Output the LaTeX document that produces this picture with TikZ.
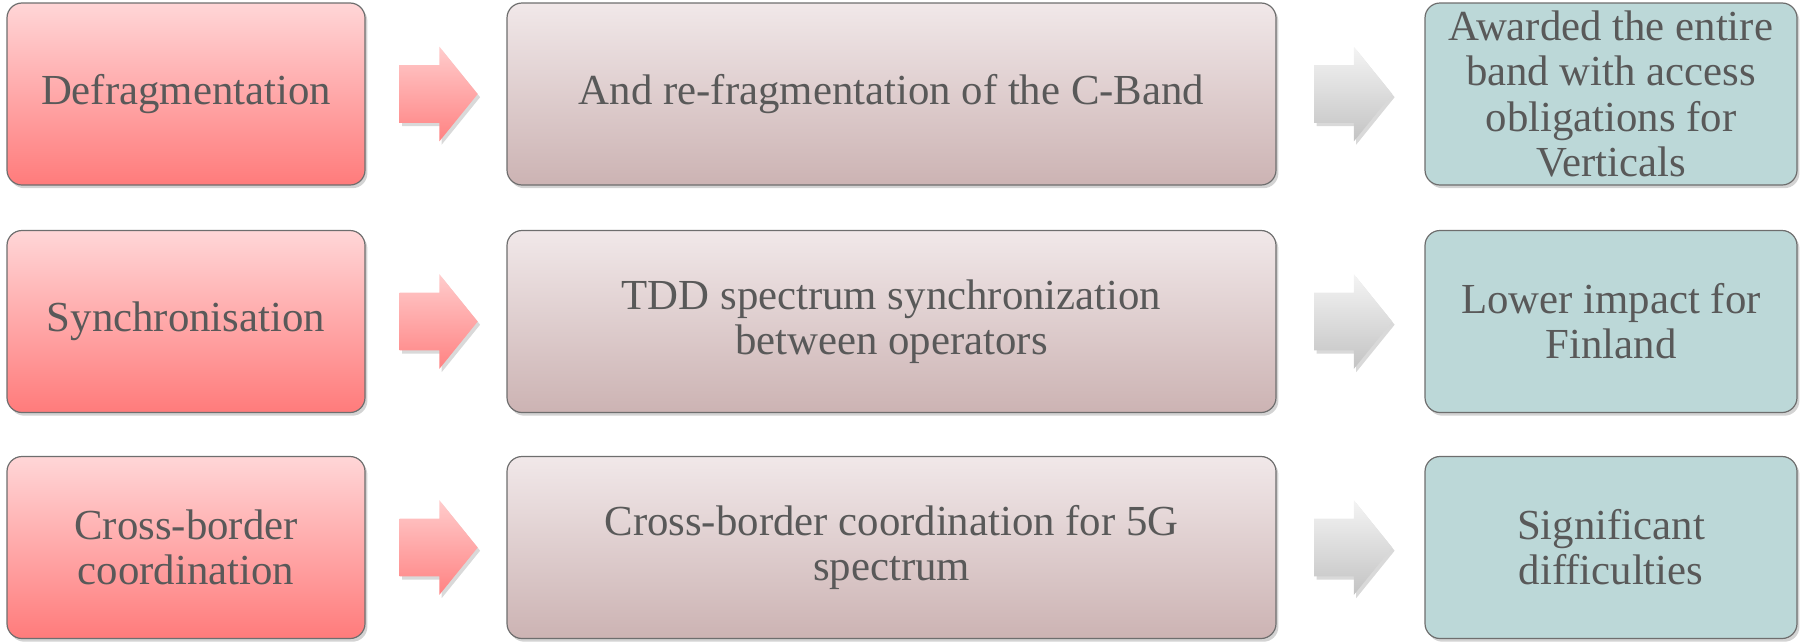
\documentclass[tikz,border=0pt]{standalone}
\usepackage{fontspec}
\newfontfamily\boxfont{LiberationSerif}[Extension=.ttf,UprightFont=*-Regular]
\usetikzlibrary{shapes.arrows,shadows,calc}
\definecolor{txtgray}{HTML}{595959}
\definecolor{boxline}{HTML}{6E6E6E}
\definecolor{redtop}{HTML}{FFD6D7}
\definecolor{redbot}{HTML}{FF7B7B}
\definecolor{mauvetop}{HTML}{F1E8E9}
\definecolor{mauvebot}{HTML}{CCB3B3}
\definecolor{tealfill}{HTML}{BCD8D8}
\definecolor{pinktop}{HTML}{FFCCCC}
\definecolor{pinkbot}{HTML}{FF8282}
\definecolor{greytop}{HTML}{F4F4F4}
\definecolor{greybot}{HTML}{C3C3C3}

\begin{document}
\begin{tikzpicture}[x=0.5pt,y=-0.5pt,
    box/.style={rounded corners=7.5pt,draw=boxline,line width=0.6pt,
        minimum height=91pt,inner sep=0pt,align=center,text=txtgray,
        font=\boxfont\fontsize{21.4}{22.6}\selectfont,
        drop shadow={shadow xshift=1.2pt,shadow yshift=-1.6pt,opacity=0.35}},
    issuebox/.style={box,top color=redtop,bottom color=redbot,minimum width=179pt},
    actionbox/.style={box,top color=mauvetop,bottom color=mauvebot,minimum width=384.5pt},
    resultbox/.style={box,fill=tealfill,minimum width=186pt},
    blockarrow/.style={single arrow,inner xsep=0pt,inner ysep=14.25pt,
        minimum height=39pt,single arrow head extend=9.25pt,
        single arrow tip angle=102,xshift=-4.5pt,
        drop shadow={shadow xshift=1.2pt,shadow yshift=-1.6pt,opacity=0.3}},
    pinkarrow/.style={blockarrow,top color=pinktop,bottom color=pinkbot},
    greyarrow/.style={blockarrow,top color=greytop,bottom color=greybot}]
    \useasboundingbox (0,0) rectangle (1819,643);
    \foreach \r/\y/\issue/\action/\result in {
        1/94/{Defragmentation}/{And re-fragmentation of the C-Band}/{Awarded the entire\\band with access\\obligations for\\Verticals},
        2/321.5/{Synchronisation}/{TDD spectrum synchronization\\between operators}/{Lower impact for\\Finland},
        3/547.5/{Cross-border\\coordination}/{Cross-border coordination for 5G\\spectrum}/{Significant\\difficulties}} {
        \node[issuebox] (issue\r) at (186,\y) {\issue};
        \node[actionbox] (action\r) at (891.5,\y) {\action};
        \node[resultbox] (result\r) at (1611,\y) {\result};
        \node[pinkarrow] (arrA\r) at ($(issue\r.east)!0.5!(action\r.west)$) {};
        \node[greyarrow] (arrB\r) at ($(action\r.east)!0.5!(result\r.west)$) {};
    }
\end{tikzpicture}
\end{document}
